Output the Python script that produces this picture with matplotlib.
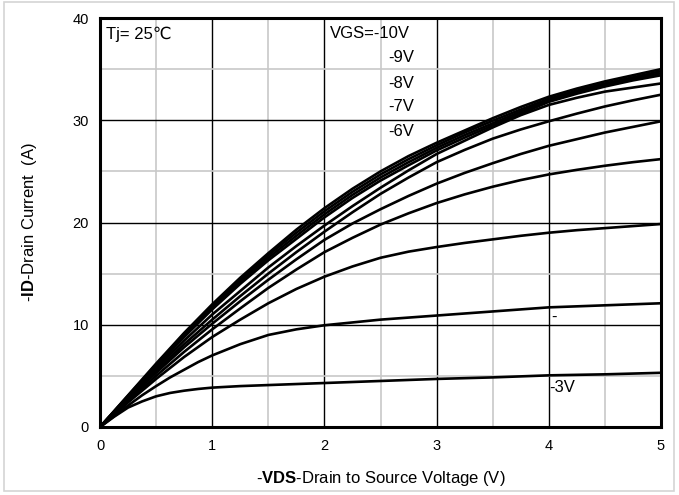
import matplotlib
matplotlib.use("Agg")
import matplotlib.pyplot as plt
from matplotlib.patches import Rectangle

plt.rcParams['font.family'] = ['Liberation Sans', 'DejaVu Sans']
plt.rcParams['mathtext.fontset'] = 'custom'
plt.rcParams['mathtext.rm'] = 'Liberation Sans'
plt.rcParams['mathtext.bf'] = 'Liberation Sans:bold'

# -VDS (V)
vds = [0, 0.25, 0.5, 0.75, 1.0, 1.25, 1.5, 1.75, 2.0, 2.25, 2.5,
       2.75, 3.0, 3.25, 3.5, 3.75, 4.0, 4.25, 4.5, 4.75, 5.0]
# finer steps through the knee for the low-VGS curves
vds_low = [0, 0.125, 0.25, 0.375, 0.5, 0.625, 0.75, 0.875, 1.0, 1.25, 1.5,
           1.75, 2.0, 2.5, 3.0, 3.5, 4.0, 4.5, 5.0]

# -ID (A) for each gate voltage, top curve first
id_10 = [0, 3.1, 6.2, 9.2, 12.0, 14.6, 17.0, 19.3, 21.4, 23.3, 25.0,
         26.5, 27.8, 29.0, 30.2, 31.3, 32.3, 33.1, 33.8, 34.4, 35.0]
id_9 = [0, 3.05, 6.1, 9.1, 11.85, 14.4, 16.8, 19.0, 21.1, 23.0, 24.7,
        26.2, 27.55, 28.8, 29.95, 31.05, 32.1, 32.9, 33.6, 34.2, 34.8]
id_8 = [0, 3.0, 6.0, 8.95, 11.7, 14.2, 16.55, 18.7, 20.8, 22.7, 24.4,
        25.9, 27.3, 28.55, 29.7, 30.85, 31.95, 32.75, 33.45, 34.05, 34.6]
id_7 = [0, 2.95, 5.9, 8.8, 11.5, 14.0, 16.3, 18.4, 20.5, 22.4, 24.1,
        25.6, 27.05, 28.3, 29.5, 30.65, 31.8, 32.6, 33.3, 33.9, 34.4]
id_6 = [0, 2.85, 5.7, 8.45, 11.0, 13.3, 15.6, 17.7, 19.7, 21.6, 23.4,
        25.1, 26.7, 28.0, 29.3, 30.5, 31.5, 32.2, 32.8, 33.2, 33.6]
id_5 = [0, 2.75, 5.5, 8.1, 10.5, 12.8, 15.0, 17.1, 19.1, 21.0, 22.8,
        24.4, 25.9, 27.1, 28.2, 29.1, 29.9, 30.65, 31.35, 31.95, 32.5]
id_45 = [0, 2.65, 5.3, 7.8, 10.1, 12.3, 14.4, 16.4, 18.3, 19.9, 21.3,
         22.6, 23.8, 24.85, 25.8, 26.7, 27.5, 28.15, 28.8, 29.35, 29.9]
id_4 = [0, 2.5, 5.0, 7.35, 9.55, 11.6, 13.6, 15.4, 17.1, 18.5, 19.8,
        20.9, 21.9, 22.75, 23.5, 24.15, 24.7, 25.15, 25.55, 25.9, 26.2]
id_35 = [0, 2.4, 4.7, 6.85, 8.8, 10.5, 12.1, 13.5, 14.7, 15.7, 16.55,
         17.15, 17.6, 18.0, 18.35, 18.7, 19.0, 19.25, 19.45, 19.65, 19.85]
# these two use vds_low
id_325 = [0, 1.05, 2.1, 3.1, 4.0, 4.85, 5.6, 6.35, 7.0, 8.1, 9.0,
          9.55, 9.95, 10.5, 10.9, 11.3, 11.7, 11.9, 12.1]
id_3 = [0, 1.0, 1.9, 2.5, 3.0, 3.33, 3.55, 3.72, 3.85, 4.0, 4.1,
        4.2, 4.3, 4.5, 4.7, 4.85, 5.05, 5.15, 5.3]

curves = [id_10, id_9, id_8, id_7, id_6, id_5, id_45, id_4, id_35]

fig = plt.figure(figsize=(6.79, 4.95), dpi=100)
ax = fig.add_axes([0.1473, 0.1374, 0.8262, 0.8262])

# light frame round the whole figure
fig.patches.append(Rectangle((0.006, 0.008), 0.986, 0.988, transform=fig.transFigure,
                             fill=False, edgecolor='#d4d4d4', linewidth=1.2))

for ids in curves:
    ax.plot(vds, ids, color='black', linewidth=1.9, solid_capstyle='round')
for ids in [id_325, id_3]:
    ax.plot(vds_low, ids, color='black', linewidth=1.9, solid_capstyle='round')

ax.set_xlim(0, 5)
ax.set_ylim(0, 40)
ax.set_xticks([0, 1, 2, 3, 4, 5])
ax.set_yticks([0, 10, 20, 30, 40])
ax.set_xticks([0.5, 1.5, 2.5, 3.5, 4.5], minor=True)
ax.set_yticks([5, 15, 25, 35], minor=True)
ax.grid(which='minor', color='#c8c8c8', linewidth=1.2)
ax.grid(which='major', color='black', linewidth=1.0)
ax.set_axisbelow(True)
ax.tick_params(which='both', length=0, labelsize=10.5)
ax.tick_params(axis='x', pad=9)
ax.tick_params(axis='y', pad=8)
for sp in ax.spines.values():
    sp.set_linewidth(2.2)

ax.set_xlabel(r"-$\mathbf{VDS}$-Drain to Source Voltage (V)", fontsize=12, labelpad=11)
ax.set_ylabel(r"-$\mathbf{ID}$-Drain Current  (A)", fontsize=12, labelpad=24)

ax.text(0.05, 39.2, "Tj= 25℃", fontsize=12, va='top', ha='left')
ax.text(2.05, 39.2, "VGS=-10V", fontsize=12, va='top', ha='left')
for lab, yv in [("-9V", 36.1), ("-8V", 33.6), ("-7V", 31.3), ("-6V", 28.9)]:
    ax.text(2.57, yv, lab, fontsize=12, va='center', ha='left')
ax.text(4.02, 10.7, "-", fontsize=12, va='center', ha='left')
ax.text(4.0, 3.9, "-3V", fontsize=12, va='center', ha='left')

fig.savefig("out.png", dpi=100)
